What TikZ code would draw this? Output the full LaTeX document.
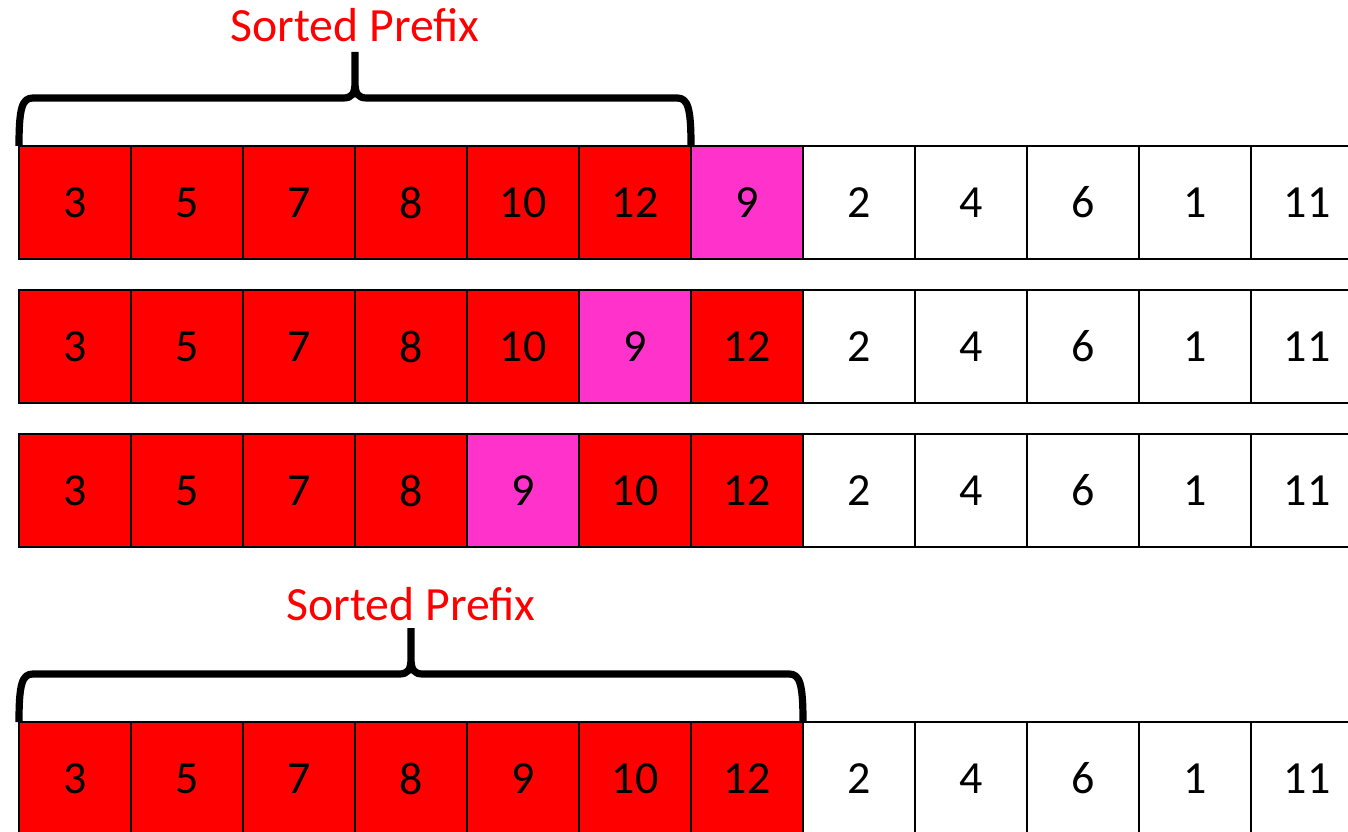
\documentclass[tikz,border=0pt]{standalone}
\usepackage{fontspec}
\setmainfont{Carlito}
\usepackage{xcolor}
\usepackage{tikz}
\usetikzlibrary{calc}
\definecolor{prefixRed}{HTML}{FF0000}
\definecolor{keyPink}{HTML}{FF33CC}
\tikzset{
    cell/.style={
        rectangle, draw=black, line width=1.8pt, inner sep=0pt, outer sep=0pt,
        minimum width=84pt, minimum height=84.75pt,
        font=\fontsize{34.5}{40}\selectfont
    },
    brace_line/.style={
        draw=black, line width=5.4pt, line cap=butt, line join=round
    },
    prefix_lbl/.style={
        anchor=base, text=prefixRed, inner sep=0pt,
        font=\fontsize{35.8}{42}\selectfont
    }
}

\begin{document}
\begin{tikzpicture}[x=0.75pt, y=-0.75pt]
    \useasboundingbox (0,0) rectangle (1348,831);

    % Rows of the array: one row per insertion step
    \foreach \r/\ytop/\vals in {
        1/146/{3/prefixRed,5/prefixRed,7/prefixRed,8/prefixRed,10/prefixRed,12/prefixRed,9/keyPink,2/white,4/white,6/white,1/white,11/white},
        2/290/{3/prefixRed,5/prefixRed,7/prefixRed,8/prefixRed,10/prefixRed,9/keyPink,12/prefixRed,2/white,4/white,6/white,1/white,11/white},
        3/434/{3/prefixRed,5/prefixRed,7/prefixRed,8/prefixRed,9/keyPink,10/prefixRed,12/prefixRed,2/white,4/white,6/white,1/white,11/white},
        4/722/{3/prefixRed,5/prefixRed,7/prefixRed,8/prefixRed,9/prefixRed,10/prefixRed,12/prefixRed,2/white,4/white,6/white,1/white,11/white}}
        \foreach \v/\c [count=\i] in \vals
            \node[cell, fill=\c] (r\r-\i) at ({75+112*(\i-1)}, {\ytop+56.5}) {\v};

    % Brace over the sorted prefix of the first row
    \coordinate (b1l) at (r1-1.north west);
    \coordinate (b1r) at (r1-6.north east);
    \coordinate (b1m) at ($(b1l)!0.5!(b1r)$);
    \draw[brace_line] (b1l) .. controls +(0,-38) and +(-11,0) .. ([shift={(14,-48)}]b1l)
        -- ([shift={(-12,-48)}]b1m) .. controls +(9,0) and +(0,12) .. ([shift={(0,-64)}]b1m)
        -- ([shift={(0,-94)}]b1m)
        ([shift={(0,-94)}]b1m) -- ([shift={(0,-64)}]b1m)
        .. controls +(0,12) and +(-9,0) .. ([shift={(12,-48)}]b1m)
        -- ([shift={(-14,-48)}]b1r) .. controls +(11,0) and +(0,-38) .. (b1r);
    \node[prefix_lbl] (lbl1) at ([shift={(0,-104)}]b1m) {Sorted Prefix};

    % Brace over the sorted prefix of the last row
    \coordinate (b2l) at (r4-1.north west);
    \coordinate (b2r) at (r4-7.north east);
    \coordinate (b2m) at ($(b2l)!0.5!(b2r)$);
    \draw[brace_line] (b2l) .. controls +(0,-38) and +(-11,0) .. ([shift={(14,-48)}]b2l)
        -- ([shift={(-12,-48)}]b2m) .. controls +(9,0) and +(0,12) .. ([shift={(0,-64)}]b2m)
        -- ([shift={(0,-94)}]b2m)
        ([shift={(0,-94)}]b2m) -- ([shift={(0,-64)}]b2m)
        .. controls +(0,12) and +(-9,0) .. ([shift={(12,-48)}]b2m)
        -- ([shift={(-14,-48)}]b2r) .. controls +(11,0) and +(0,-38) .. (b2r);
    \node[prefix_lbl] (lbl2) at ([shift={(0,-102)}]b2m) {Sorted Prefix};
\end{tikzpicture}
\end{document}
